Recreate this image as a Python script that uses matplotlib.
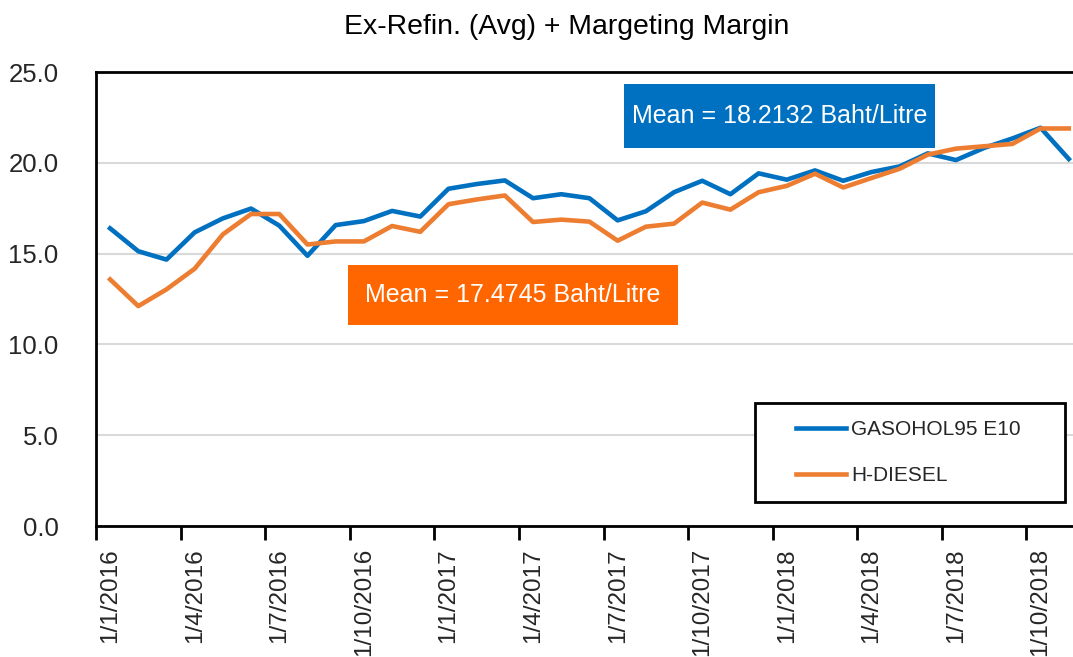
import matplotlib.pyplot as plt
from matplotlib.patches import Rectangle

plt.rcParams['font.family'] = ['Liberation Sans', 'DejaVu Sans']

# monthly values, Jan 2016 .. Nov 2018
months = [f"1/{m}/{y}" for y in (2016, 2017, 2018) for m in range(1, 13)][:35]
gasohol = [16.39, 15.13, 14.67, 16.17, 16.94, 17.48, 16.54, 14.88, 16.57, 16.79,
           17.35, 17.04, 18.57, 18.83, 19.03, 18.05, 18.27, 18.05, 16.83, 17.33,
           18.38, 19.01, 18.27, 19.42, 19.07, 19.58, 19.01, 19.49, 19.80, 20.52,
           20.15, 20.82, 21.34, 21.93, 20.21]
diesel = [13.58, 12.11, 13.03, 14.17, 16.06, 17.18, 17.18, 15.50, 15.67, 15.67,
          16.52, 16.20, 17.72, 17.98, 18.20, 16.74, 16.87, 16.76, 15.71, 16.48,
          16.65, 17.81, 17.42, 18.38, 18.73, 19.40, 18.64, 19.16, 19.67, 20.45,
          20.78, 20.91, 21.04, 21.89, 21.89]
mean_gasohol = "Mean = 18.2132 Baht/Litre"
mean_diesel = "Mean = 17.4745 Baht/Litre"
yticks = [0, 5, 10, 15, 20, 25]

fig = plt.figure(figsize=(10.73, 6.57), dpi=100)
ax = fig.add_axes([96/1073, 1 - 526/657, 977/1073, 454/657])

x = list(range(len(months)))
ax.plot(x, gasohol, color='#0070C0', lw=3.3, label='GASOHOL95 E10', solid_joinstyle='round')
ax.plot(x, diesel, color='#ED7D31', lw=3.3, label='H-DIESEL', solid_joinstyle='round')

ax.set_xlim(-0.5, 34.15)
ax.set_ylim(0, 25)
ax.set_yticks(yticks)
ax.set_yticklabels([f"{v:.1f}" for v in yticks], fontsize=18.5, color='#262626')
ax.tick_params(axis='y', length=0, pad=27)
ax.yaxis.grid(True, color='#D9D9D9', lw=1.5)
ax.set_axisbelow(True)

# labels on the month, tick marks on the boundaries
ax.set_xticks(x[::3])
ax.set_xticklabels(months[::3], rotation=90, fontsize=17.5, va='top', color='#262626')
ax.tick_params(axis='x', which='major', length=0, pad=16)
ax.set_xticks([i - 0.5 for i in x[::3]], minor=True)
ax.tick_params(axis='x', which='minor', length=10, width=2, color='black')

for s in ['left', 'bottom', 'top']:
    ax.spines[s].set_linewidth(2)
    ax.spines[s].set_color('black')
ax.spines['right'].set_visible(False)

fig.text(567/1073, 1 - 27/657, "Ex-Refin. (Avg) + Margeting Margin",
         fontsize=20.4, ha='center', va='center')

# mean boxes
ax.add_patch(Rectangle((0.5404, 0.8326), 0.3183, 0.141, transform=ax.transAxes,
                       facecolor='#0070C0', edgecolor='none', zorder=5))
ax.text(0.5404 + 0.3183/2, 0.8326 + 0.141/2, mean_gasohol, transform=ax.transAxes,
        color='white', fontsize=18, ha='center', va='center', zorder=6)
ax.add_patch(Rectangle((0.2579, 0.4427), 0.3378, 0.1322, transform=ax.transAxes,
                       facecolor='#FF6600', edgecolor='none', zorder=5))
ax.text(0.2579 + 0.3378/2, 0.4427 + 0.1322/2, mean_diesel, transform=ax.transAxes,
        color='white', fontsize=18, ha='center', va='center', zorder=6)

# legend with a plain black frame
ax.add_patch(Rectangle((0.6745, 0.0529), 0.3173, 0.218, transform=ax.transAxes,
                       facecolor='white', edgecolor='black', lw=2, zorder=5))
leg = ax.legend(loc='center left', bbox_to_anchor=(0.7055, 0.162), frameon=False,
                fontsize=15, handlelength=2.4, handletextpad=0.25, labelspacing=1.3,
                borderpad=0)
leg.set_zorder(6)
for t in leg.get_texts():
    t.set_color('#262626')

plt.savefig('out.png', dpi=100)
